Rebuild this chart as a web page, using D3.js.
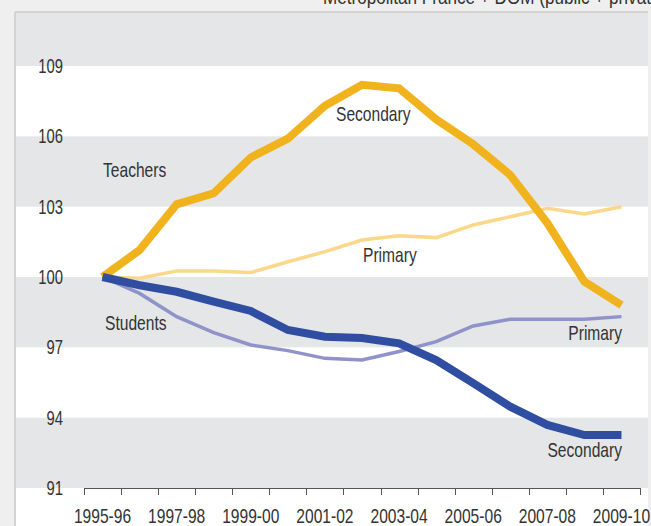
<!DOCTYPE html>
<html>
<head>
<meta charset="utf-8">
<script src="https://cdn.jsdelivr.net/npm/d3@7"></script>
<style>
  html, body { margin: 0; padding: 0; background: #efefef; }
  svg { display: block; }
  text { font-family: "Liberation Sans", Arial, "Roboto", sans-serif; fill: #333; }
</style>
</head>
<body>
<svg id="chart" width="651" height="526"></svg>
<script>
const years = ["1995-96","1996-97","1997-98","1998-99","1999-00","2000-01","2001-02","2002-03",
               "2003-04","2004-05","2005-06","2006-07","2007-08","2008-09","2009-10"];
const tickLabels = ["1995-96","1997-98","1999-00","2001-02","2003-04","2005-06","2007-08","2009-10"];
const yTicks = [91, 94, 97, 100, 103, 106, 109];
const grayBands = [[91, 94], [97, 100], [103, 106], [109, 112]];

const teachersSecondary = [100, 101.15, 103.1, 103.57, 105.1, 105.9, 107.3, 108.2, 108.05, 106.73, 105.66, 104.35, 102.3, 99.8, 98.8];
const teachersPrimary   = [100, 99.95, 100.26, 100.26, 100.19, 100.65, 101.08, 101.58, 101.76, 101.68, 102.22, 102.57, 102.93, 102.69, 103.0];
const studentsSecondary = [100, 99.65, 99.37, 98.95, 98.55, 97.74, 97.45, 97.4, 97.17, 96.46, 95.47, 94.47, 93.69, 93.26, 93.26];
const studentsPrimary   = [100, 99.3, 98.31, 97.63, 97.1, 96.86, 96.53, 96.46, 96.82, 97.24, 97.91, 98.2, 98.2, 98.2, 98.31];

const svg = d3.select("#chart");
const W = 651, H = 526;

function ctext(sel, px, py, sx) {
  return sel.attr("x", 0).attr("y", 0)
    .attr("transform", (d, i) => `translate(${px(d, i)},${py(d, i)}) scale(${sx},1)`);
}

// panel
const panel = {x: 15, y: 12, w: 633, h: H - 12};
svg.append("rect").attr("x", panel.x).attr("y", panel.y).attr("width", panel.w).attr("height", panel.h).attr("fill", "#ffffff");

const x = d3.scaleBand().domain(years).range([84, 640]);
const y = d3.scaleLinear().domain([91, 109]).range([488, 66]);

svg.append("clipPath").attr("id", "pclip").append("rect")
  .attr("x", panel.x).attr("y", panel.y).attr("width", panel.w).attr("height", panel.h);

svg.append("g").attr("clip-path", "url(#pclip)")
  .selectAll("rect").data(grayBands).join("rect")
  .attr("x", panel.x).attr("width", panel.w)
  .attr("y", d => y(d[1])).attr("height", d => y(d[0]) - y(d[1]))
  .attr("fill", "#e5e6e7");

// panel border (top + left)
svg.append("line").attr("x1", panel.x).attr("x2", panel.x + panel.w).attr("y1", panel.y).attr("y2", panel.y)
  .attr("stroke", "#d3d3d3").attr("stroke-width", 2);
svg.append("line").attr("x1", panel.x).attr("x2", panel.x).attr("y1", panel.y).attr("y2", H)
  .attr("stroke", "#d3d3d3").attr("stroke-width", 2);

// subtitle (cut off at top and right, as in the reference)
ctext(svg.append("text").datum(0), () => 323, () => 4, 0.815).style("font-size", "21px")
  .text("Metropolitan France + DOM (public + private)");

// y labels
ctext(svg.append("g").selectAll("text").data(yTicks).join("text"), () => 63, d => y(d) + 7, 0.76)
  .attr("text-anchor", "end").style("font-size", "19.5px")
  .text(d => d);

// x axis
const xAxis = svg.append("g");
xAxis.append("line").attr("x1", 84).attr("x2", 640).attr("y1", 488.5).attr("y2", 488.5)
  .attr("stroke", "#555").attr("stroke-width", 1);
const edges = years.map(d => x(d)).concat([x.range()[1]]);
xAxis.selectAll("line.tick").data(edges).join("line").attr("class", "tick")
  .attr("x1", d => Math.round(d) + 0.5).attr("x2", d => Math.round(d) + 0.5)
  .attr("y1", 488).attr("y2", 495).attr("stroke", "#555").attr("stroke-width", 1);
ctext(xAxis.selectAll("text").data(tickLabels).join("text"), d => x(d) + x.bandwidth() / 2, () => 523, 0.78)
  .attr("text-anchor", "middle").style("font-size", "20px")
  .text(d => d);

const line = d3.line().x((d, i) => x(years[i]) + x.bandwidth() / 2).y(d => y(d));

const series = [
  {data: teachersPrimary, color: "#fbd78b", w: 3.5},
  {data: studentsPrimary, color: "#8f93c9", w: 3.5},
  {data: teachersSecondary, color: "#f0b31e", w: 8},
  {data: studentsSecondary, color: "#2f4ea1", w: 8}
];
svg.append("g").selectAll("path").data(series).join("path")
  .attr("d", d => line(d.data))
  .attr("fill", "none").attr("stroke", d => d.color).attr("stroke-width", d => d.w)
  .attr("stroke-linejoin", "miter").attr("stroke-linecap", "butt");

// annotations
const notes = [
  {t: "Teachers", x: 103, y: 177, a: "start"},
  {t: "Secondary", x: 336, y: 121, a: "start"},
  {t: "Primary", x: 363, y: 262, a: "start"},
  {t: "Students", x: 105, y: 330, a: "start"},
  {t: "Primary", x: 622, y: 340, a: "end"},
  {t: "Secondary", x: 622, y: 457, a: "end"}
];
ctext(svg.append("g").selectAll("text").data(notes).join("text"), d => d.x, d => d.y, 0.78)
  .attr("text-anchor", d => d.a)
  .style("font-size", "20px").text(d => d.t);
</script>
</body>
</html>
